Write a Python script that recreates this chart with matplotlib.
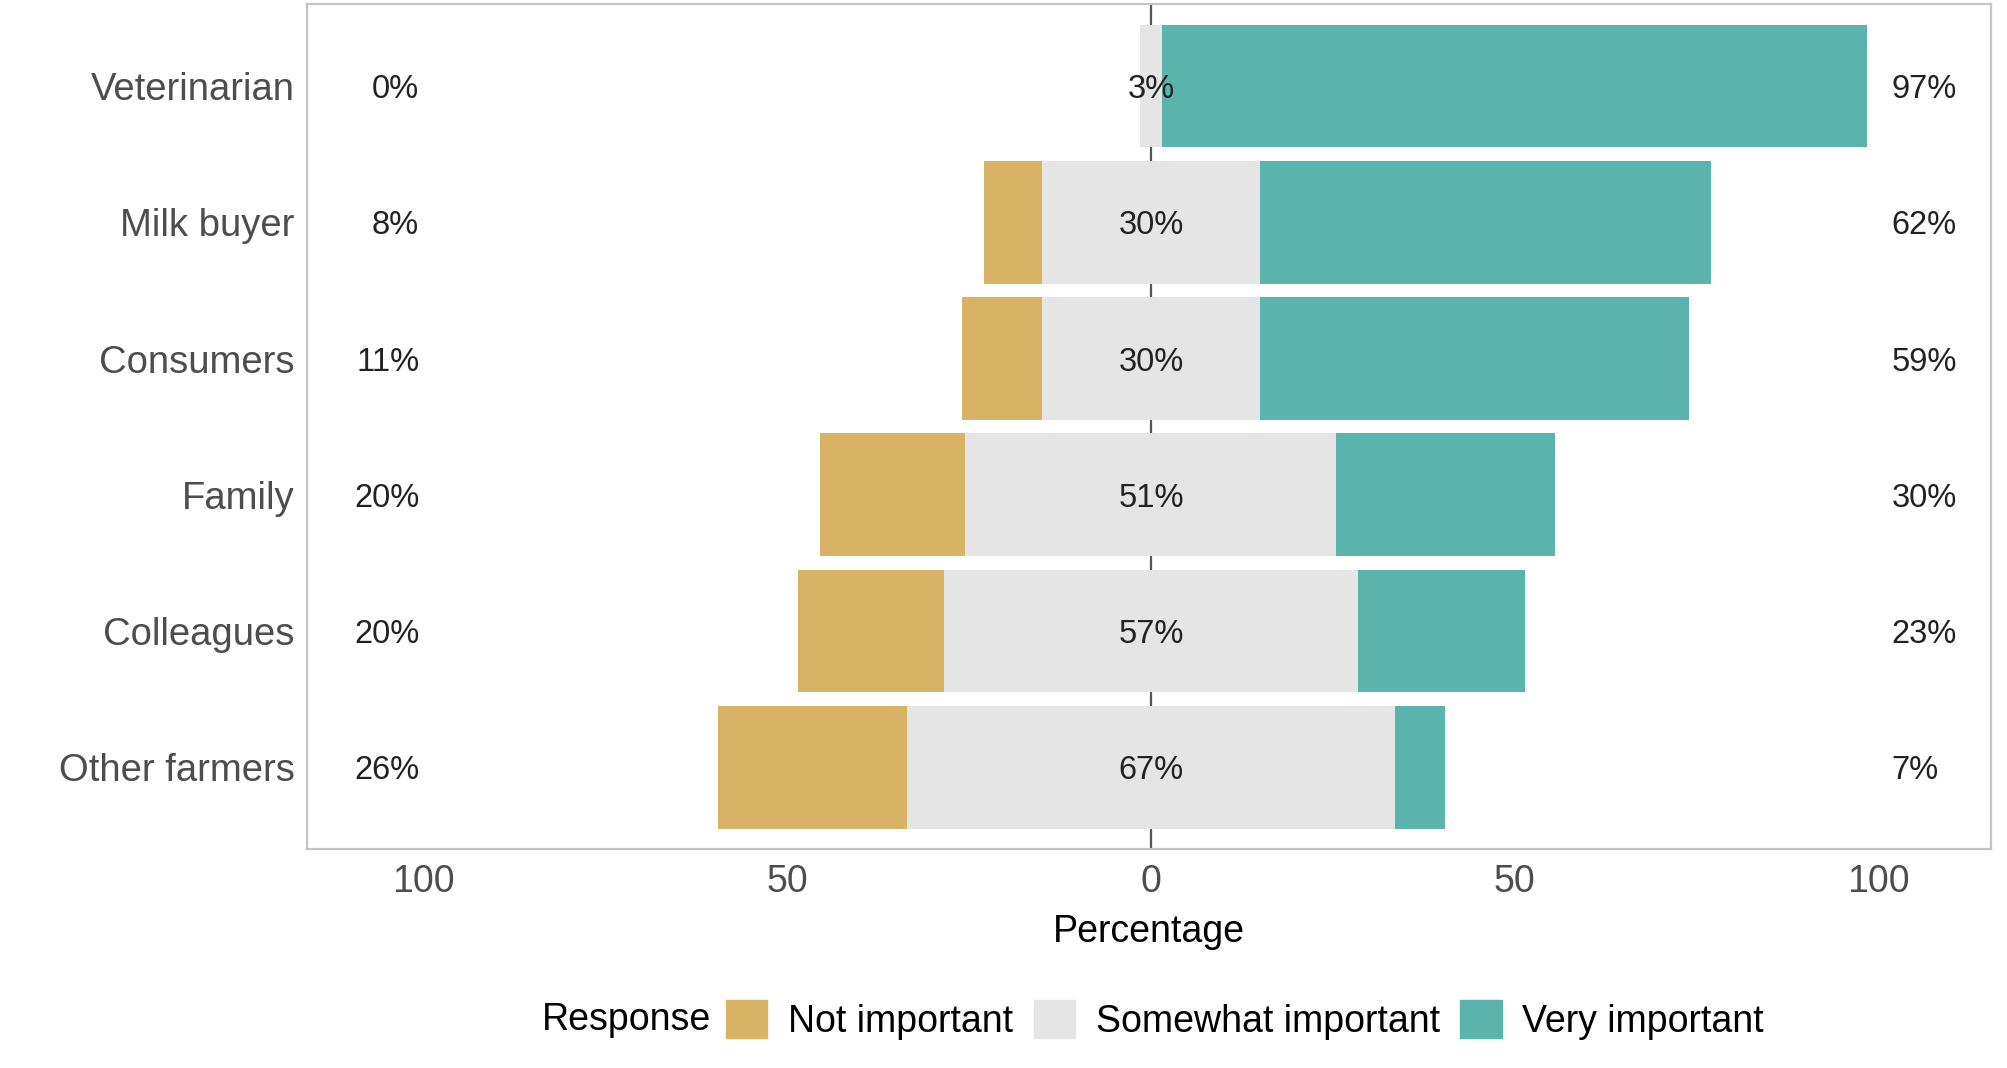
import numpy as np
import matplotlib
matplotlib.use("Agg")
import matplotlib.pyplot as plt
from matplotlib.patches import Patch

plt.rcParams['font.family'] = ['Liberation Sans', 'DejaVu Sans']

# data (percent of respondents)
sources = ["Veterinarian", "Milk buyer", "Consumers", "Family", "Colleagues", "Other farmers"]
not_important = [0, 8, 11, 20, 20, 26]
somewhat = [3, 30, 30, 51, 57, 67]
very = [97, 62, 59, 30, 23, 7]
x_ticks = [-100, -50, 0, 50, 100]
x_tick_labels = ["100", "50", "0", "50", "100"]

c_not = "#D8B365"
c_some = "#E5E5E5"
c_very = "#5AB4AC"

fig = plt.figure(figsize=(20.08, 10.68), dpi=100)
ax = fig.add_axes([0.153, 0.205, 0.8385, 0.791])

y = np.arange(len(sources))
nt = np.array(not_important)
sw = np.array(somewhat)
vr = np.array(very)

# zero line behind the bars
ax.axvline(0, color="#555555", lw=1.6, zorder=0)

h = 0.9
ax.barh(y, sw, left=-sw / 2, height=h, color=c_some, zorder=2)
ax.barh(y, -nt, left=-sw / 2, height=h, color=c_not, zorder=2)
ax.barh(y, vr, left=sw / 2, height=h, color=c_very, zorder=2)

fs = 23.5
for i in range(len(sources)):
    ax.text(-100.6, y[i], f"{not_important[i]}%", ha="right", va="center_baseline", fontsize=fs, color="#222222", zorder=3)
    ax.text(0, y[i], f"{somewhat[i]}%", ha="center", va="center_baseline", fontsize=fs, color="#222222", zorder=3)
    ax.text(101.8, y[i], f"{very[i]}%", ha="left", va="center_baseline", fontsize=fs, color="#222222", zorder=3)

ax.set_xlim(-116, 115.5)
ax.set_ylim(len(sources) - 0.4, -0.6)
ax.set_yticks(y)
ax.set_yticklabels(sources, fontsize=27.5, color="#4d4d4d", va="center_baseline")
ax.set_xticks(x_ticks)
ax.set_xticklabels(x_tick_labels, fontsize=27, color="#4d4d4d")
ax.tick_params(axis="both", length=0)
ax.tick_params(axis="y", pad=9)
ax.tick_params(axis="x", pad=11)
ax.set_xlabel("Percentage", fontsize=27, labelpad=10)
for s in ax.spines.values():
    s.set_color("#c4c4c4")
    s.set_linewidth(1.6)

# legend at bottom with title on the left
handles = [Patch(color=c_not), Patch(color=c_some), Patch(color=c_very)]
labels = ["Not important", "Somewhat important", "Very important"]
fig.legend(handles, labels, loc="center", bbox_to_anchor=(0.620, 0.045), ncol=3,
           frameon=False, fontsize=27, handlelength=1.1, handleheight=1.15,
           handletextpad=0.55, columnspacing=0.55)
fig.text(0.354, 0.045, "Response", ha="right", va="center", fontsize=27)

fig.savefig("out.png", dpi=100)
